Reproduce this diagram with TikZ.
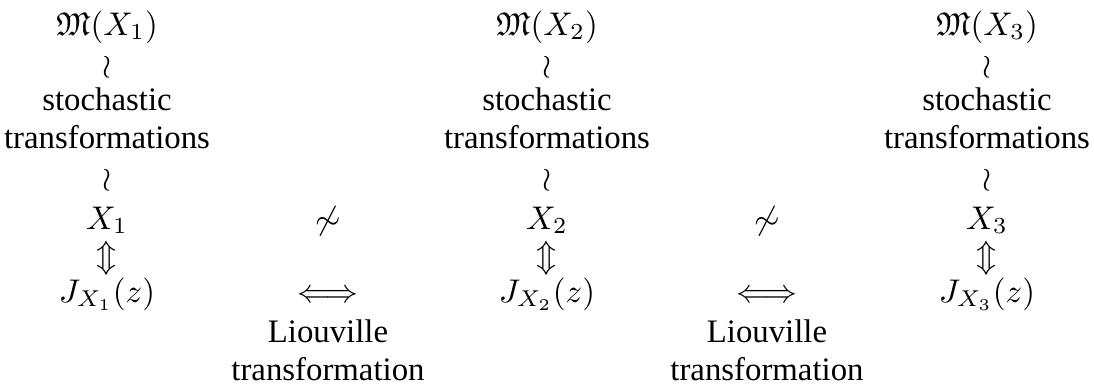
\documentclass[tikz,border=0pt]{standalone}
\usepackage{amssymb}
\usepackage[no-math]{fontspec}
\setmainfont{Liberation Serif}
\tikzset{
  lbl/.style={inner sep=0pt, outer sep=0pt, anchor=base, align=center},
}
\begin{document}
\begin{tikzpicture}[x=0.30488pt, y=-0.30488pt]
\useasboundingbox (0,0) rectangle (1094,384);
\foreach \i/\cx in {1/107, 2/547, 3/987} {
  \node[lbl] (m\i)  at (\cx,35)  {$\mathfrak{M}(X_\i)$};
  \node[lbl] (wa\i) at (\cx,75)  {$\wr$};
  \node[lbl] (s\i)  at (\cx,110) {stochastic};
  \node[lbl] (t\i)  at (\cx,148) {transformations};
  \node[lbl] (wb\i) at (\cx,188) {$\wr$};
  \node[lbl] (x\i)  at (\cx,229) {$X_\i$};
  \node[lbl] (u\i)  at (\cx,266) {$\Updownarrow$};
  \node[lbl] (j\i)  at (\cx,302) {$J_{X_\i}(z)$};
}
\foreach \k/\cx in {1/328, 2/767} {
  \node[lbl] (ns\k) at (\cx,229) {$\not\sim$};
  \node[lbl] (lr\k) at (\cx,302) {$\Longleftrightarrow$};
  \node[lbl] (li\k) at (\cx,342) {Liouville};
  \node[lbl] (lt\k) at (\cx,380) {transformation};
}
\end{tikzpicture}
\end{document}
